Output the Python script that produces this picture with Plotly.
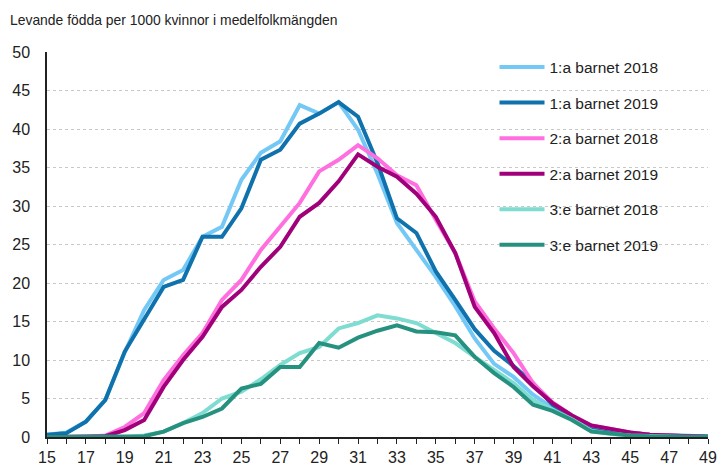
import plotly.graph_objects as go

ages = list(range(15, 50))

first_2018 = [0.3, 0.6, 2.0, 4.8, 11.0, 16.5, 20.4, 21.7, 26.0, 27.3, 33.4, 36.9,
              38.4, 43.1, 42.0, 43.5, 39.9, 34.2, 27.8, 24.3, 20.8, 17.0, 12.8, 9.5,
              7.8, 5.5, 3.8, 2.5, 1.3, 0.8, 0.5, 0.3, 0.2, 0.1, 0.0]
first_2019 = [0.3, 0.5, 2.0, 4.8, 11.1, 15.2, 19.5, 20.4, 26.0, 26.0, 29.7, 36.0,
              37.3, 40.7, 42.0, 43.5, 41.6, 35.6, 28.4, 26.5, 21.5, 17.8, 14.0, 11.2,
              9.2, 7.0, 4.2, 2.6, 1.3, 0.8, 0.5, 0.3, 0.2, 0.1, 0.1]
second_2018 = [0.0, 0.0, 0.0, 0.2, 1.3, 3.1, 7.4, 10.6, 13.5, 17.8, 20.4, 24.3,
               27.3, 30.4, 34.5, 36.0, 37.9, 36.2, 34.0, 32.7, 28.2, 23.9, 17.6, 14.1,
               10.9, 7.0, 4.5, 2.8, 1.5, 1.0, 0.6, 0.3, 0.2, 0.1, 0.0]
second_2019 = [0.0, 0.0, 0.0, 0.1, 0.9, 2.2, 6.5, 10.0, 13.0, 16.9, 19.1, 22.1,
               24.7, 28.6, 30.4, 33.2, 36.7, 35.1, 33.8, 31.6, 28.6, 23.9, 16.9, 13.5,
               9.1, 6.6, 4.4, 2.8, 1.5, 1.0, 0.6, 0.3, 0.2, 0.1, 0.0]
third_2018 = [0.0, 0.0, 0.0, 0.0, 0.0, 0.2, 0.7, 1.8, 3.1, 5.0, 5.9, 7.5,
              9.35, 10.9, 11.7, 14.1, 14.8, 15.8, 15.4, 14.8, 13.5, 12.2, 10.4, 8.7,
              7.0, 4.8, 3.5, 2.3, 0.8, 0.4, 0.2, 0.1, 0.1, 0.0, 0.0]
third_2019 = [0.0, 0.0, 0.0, 0.0, 0.0, 0.1, 0.7, 1.8, 2.6, 3.7, 6.3, 6.9,
              9.1, 9.1, 12.2, 11.6, 12.9, 13.8, 14.5, 13.7, 13.6, 13.2, 10.4, 8.3,
              6.5, 4.2, 3.4, 2.2, 0.7, 0.4, 0.2, 0.1, 0.1, 0.0, 0.0]

series_names = ["1:a barnet 2018", "1:a barnet 2019", "2:a barnet 2018",
                "2:a barnet 2019", "3:e barnet 2018", "3:e barnet 2019"]
series_values = [first_2018, first_2019, second_2018, second_2019, third_2018, third_2019]
series_colors = ["#74C8F6", "#0F72AD", "#FF6FDF", "#A0007A", "#7EDCD1", "#27917F"]

x_tick_vals = list(range(15, 50, 2))
y_tick_vals = list(range(0, 51, 5))

fig = go.Figure()
for name, vals, col in zip(series_names, series_values, series_colors):
    fig.add_trace(go.Scatter(x=ages, y=vals, mode="lines", name=name,
                             legendgroup=name,
                             line=dict(color=col, width=4)))

fig.update_layout(
    width=719, height=464,
    margin=dict(l=39, r=19, t=44, b=35),
    plot_bgcolor="white", paper_bgcolor="white",
    font=dict(family="Liberation Sans, Arial, sans-serif", size=16, color="#222222"),
    showlegend=True,
    legend=dict(x=0.677, y=1.004, xanchor="left", yanchor="top",
                bgcolor="rgba(0,0,0,0)", font=dict(size=15.5, color="#222222"),
                tracegroupgap=12.4, itemwidth=45),
    annotations=[dict(text="Levande födda per 1000 kvinnor i medelfolkmängden",
                      xref="paper", yref="paper", x=-0.059, y=1.0, yshift=22,
                      xanchor="left", yanchor="bottom", showarrow=False,
                      font=dict(size=13.9, color="#222222"))],
)
fig.update_xaxes(range=[15, 49], tickvals=x_tick_vals, ticks="outside", ticklen=5,
                 tickcolor="#222222", showline=True, linecolor="#222222", linewidth=1.5,
                 showgrid=False, zeroline=False, tickfont=dict(size=16), automargin=False,
                 minor=dict(dtick=1, tick0=15, ticks="outside", ticklen=5,
                            tickcolor="#222222", showgrid=False))
fig.update_yaxes(range=[0, 50], tickvals=y_tick_vals, showline=True,
                 linecolor="#222222", linewidth=1.5, ticks="", automargin=False,
                 ticklabelstandoff=12, tickfont=dict(size=16),
                 showgrid=True, gridcolor="#C8C8C8", griddash="dot", gridwidth=1,
                 zeroline=False)

fig.write_html("out.html")
